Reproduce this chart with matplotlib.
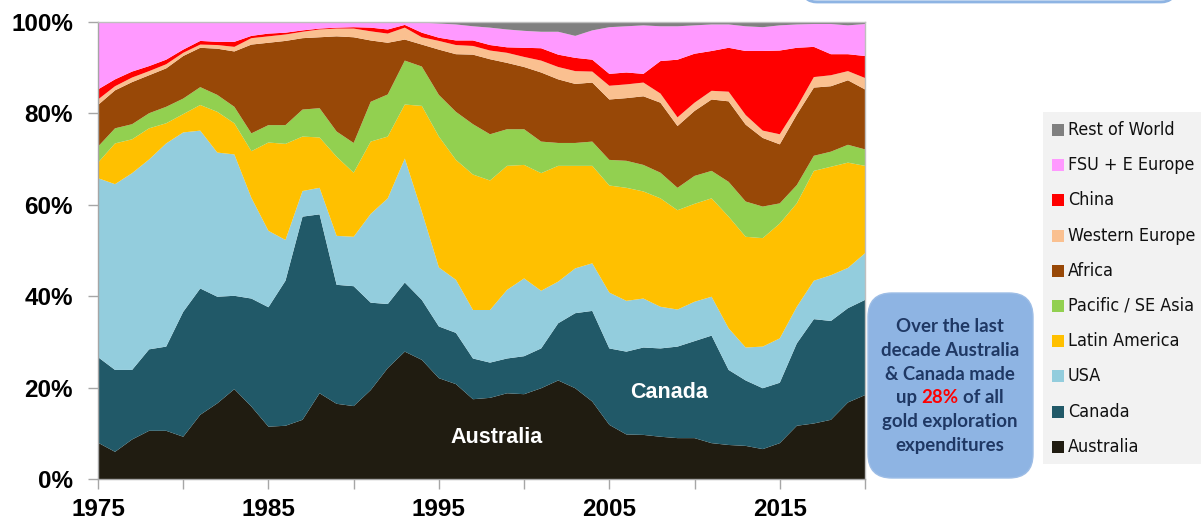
import matplotlib
matplotlib.use("Agg")
import matplotlib.pyplot as plt
from matplotlib.patches import FancyBboxPatch, Rectangle
from matplotlib.transforms import IdentityTransform
from matplotlib.ticker import FuncFormatter
from matplotlib import font_manager

W, H = 1201, 520

years = list(range(1975, 2021))

australia = [8.0, 6.0, 8.7, 10.6, 10.6, 9.3, 14.1, 16.6, 19.7, 15.9,
             11.5, 11.7, 13.0, 18.8, 16.5, 16.0, 19.5, 24.3, 27.9, 26.1,
             22.1, 20.8, 17.5, 17.8, 18.8, 18.6, 19.9, 21.6, 19.9, 17.0,
             11.9, 9.8, 9.7, 9.3, 9.0, 9.0, 7.9, 7.5, 7.3, 6.6,
             7.9, 11.7, 12.2, 13.0, 16.8, 18.4]
canada = [18.7, 17.9, 15.2, 17.8, 18.4, 27.3, 27.6, 23.3, 20.4, 23.6,
          26.1, 31.7, 44.4, 39.1, 26.0, 26.2, 19.1, 14.0, 15.1, 13.1,
          11.3, 11.2, 8.9, 7.7, 7.6, 8.3, 8.7, 12.5, 16.4, 19.8,
          16.7, 18.1, 19.1, 19.3, 20.0, 21.2, 23.5, 16.4, 14.3, 13.3,
          13.2, 18.0, 22.8, 21.6, 20.6, 20.8]
usa = [39.1, 40.6, 43.0, 41.5, 44.4, 39.2, 34.5, 31.5, 30.9, 22.0,
       16.7, 8.9, 5.6, 5.8, 10.7, 10.8, 19.4, 23.1, 27.1, 19.3,
       12.9, 11.6, 10.6, 11.5, 15.0, 17.0, 12.6, 9.1, 9.8, 10.4,
       12.2, 11.1, 10.7, 9.1, 8.1, 8.6, 8.5, 9.1, 7.2, 9.1,
       9.7, 8.0, 8.4, 10.0, 8.8, 10.2]
latin_america = [3.4, 8.9, 7.4, 6.8, 4.4, 4.0, 5.6, 8.9, 6.8, 10.2,
                 19.3, 21.0, 11.9, 11.0, 17.3, 14.0, 15.8, 13.5, 11.8, 23.1,
                 28.6, 26.2, 29.6, 28.3, 27.1, 24.8, 25.7, 25.3, 22.4, 21.3,
                 23.4, 24.7, 23.4, 23.7, 21.7, 21.4, 21.5, 24.4, 24.2, 23.7,
                 25.1, 22.6, 24.0, 23.7, 23.0, 19.1]
pacific = [3.5, 3.3, 3.3, 3.3, 3.6, 3.4, 3.9, 3.7, 3.6, 3.9,
           3.8, 4.1, 5.9, 6.4, 5.5, 6.5, 8.7, 9.2, 9.6, 8.6,
           9.1, 10.5, 11.0, 10.1, 8.0, 7.8, 6.9, 5.0, 5.0, 5.3,
           5.6, 5.9, 5.8, 5.6, 4.9, 6.1, 6.0, 7.6, 7.7, 6.9,
           4.4, 4.0, 3.3, 3.3, 3.9, 3.6]
africa = [9.1, 8.3, 9.2, 8.3, 8.4, 9.3, 8.6, 10.1, 12.1, 19.4,
          18.0, 18.4, 15.6, 15.5, 20.8, 23.1, 13.4, 11.3, 4.6, 4.8,
          9.9, 12.6, 15.2, 16.4, 14.5, 13.6, 15.1, 13.9, 12.9, 12.9,
          13.2, 13.7, 15.0, 15.3, 13.5, 14.2, 15.6, 17.6, 16.8, 15.0,
          12.9, 15.4, 14.9, 14.3, 14.1, 13.1]
western_europe = [1.2, 0.9, 1.0, 0.9, 0.9, 0.7, 0.7, 0.8, 1.0, 1.4,
                  1.4, 1.4, 1.4, 1.7, 1.7, 1.9, 2.0, 2.0, 2.6, 1.6,
                  1.9, 2.0, 1.9, 1.9, 2.2, 2.2, 2.6, 2.7, 2.8, 2.4,
                  3.0, 3.0, 3.0, 2.0, 1.9, 1.8, 1.9, 2.1, 2.1, 1.6,
                  2.2, 1.6, 2.3, 2.4, 2.0, 2.5]
china = [2.2, 1.5, 1.3, 1.1, 1.0, 0.7, 0.8, 0.7, 1.1, 0.5,
         0.6, 0.4, 0.3, 0.2, 0.2, 0.3, 0.8, 0.9, 0.6, 1.0,
         0.7, 1.0, 1.2, 1.2, 1.2, 2.0, 2.7, 2.7, 2.9, 2.6,
         2.6, 2.6, 1.9, 7.1, 12.6, 10.7, 8.7, 9.6, 14.0, 17.4,
         18.3, 13.0, 6.6, 4.6, 3.7, 4.8]
fsu_e_europe = [14.8, 12.6, 10.9, 9.7, 8.3, 6.1, 4.2, 4.4, 4.4, 3.1,
                2.6, 2.4, 1.9, 1.5, 1.3, 1.0, 1.1, 1.5, 0.5, 2.2,
                3.1, 3.5, 3.1, 3.8, 3.9, 3.7, 3.6, 5.0, 4.8, 6.4,
                10.2, 10.1, 10.6, 7.6, 7.3, 6.2, 5.8, 5.1, 5.4, 5.2,
                5.5, 5.1, 5.0, 6.6, 6.3, 7.0]
rest_of_world = [0.0, 0.0, 0.0, 0.0, 0.0, 0.0, 0.0, 0.0, 0.0, 0.0,
                 0.0, 0.0, 0.0, 0.0, 0.0, 0.2, 0.2, 0.2, 0.2, 0.2,
                 0.4, 0.6, 1.0, 1.3, 1.7, 2.0, 2.2, 2.2, 3.1, 1.9,
                 1.2, 1.0, 0.8, 1.0, 1.0, 0.8, 0.6, 0.6, 1.0, 1.2,
                 0.8, 0.6, 0.5, 0.5, 0.5, 0.5]

series_names = ["Australia", "Canada", "USA", "Latin America", "Pacific / SE Asia",
                "Africa", "Western Europe", "China", "FSU + E Europe", "Rest of World"]
series = [australia, canada, usa, latin_america, pacific, africa,
          western_europe, china, fsu_e_europe, rest_of_world]
colors = ["#201c11", "#215968", "#93cddd", "#ffc000", "#92d050",
          "#984807", "#fac090", "#ff0000", "#ff99ff", "#808080"]

x_ticks = [1975, 1980, 1985, 1990, 1995, 2000, 2005, 2010, 2015, 2020]
x_labels = ["1975", "", "1985", "", "1995", "", "2005", "", "2015", ""]
y_ticks = [0, 20, 40, 60, 80, 100]

fig = plt.figure(figsize=(W / 100, H / 100), dpi=100)
ax = fig.add_axes([98 / W, 1 - 479.3 / H, (865 - 98) / W, (479.3 - 21.7) / H])

ax.stackplot(years, *series, colors=colors, labels=series_names, linewidth=0)
ax.set_xlim(1975, 2020)
ax.set_ylim(0, 100)

ax.set_xticks(x_ticks)
ax.set_xticklabels(x_labels)
ax.set_yticks(y_ticks)
ax.yaxis.set_major_formatter(FuncFormatter(lambda v, p: f"{v:.0f}%"))

for s in ax.spines.values():
    s.set_color("#bfbfbf")
    s.set_linewidth(1)
ax.spines["left"].set_color("#a6a6a6")
ax.spines["bottom"].set_color("#a6a6a6")

ax.tick_params(axis="both", direction="out", length=7, width=1, color="#a6a6a6")
ax.tick_params(axis="y", pad=11)
ax.tick_params(axis="x", pad=6.5)
for lab in ax.get_xticklabels():
    lab.set_fontsize(17.5)
    lab.set_fontweight("bold")
    lab.set_family("Liberation Sans")
for lab in ax.get_yticklabels():
    lab.set_fontsize(17.5)
    lab.set_fontweight("bold")
    lab.set_family("Liberation Sans")

ax.text(1998.4, 9.2, "Australia", color="white", fontsize=15.5, fontweight="bold",
        family="Liberation Sans", ha="center", va="center")
ax.text(2008.5, 18.9, "Canada", color="white", fontsize=15.5, fontweight="bold",
        family="Liberation Sans", ha="center", va="center")

ident = IdentityTransform()

# pick a narrow font for the legend if one is installed
names = {f.name for f in font_manager.fontManager.ttflist}
cond = {(f.name, f.stretch) for f in font_manager.fontManager.ttflist}
leg_kw = dict(family="Liberation Sans")
if "Liberation Sans Narrow" in names:
    leg_kw = dict(family="Liberation Sans Narrow")
elif any(n == "DejaVu Sans" and st in ("condensed", 300, "semi-condensed") for n, st in cond):
    leg_kw = dict(family="DejaVu Sans", stretch="condensed")

fig.canvas.draw()
r = fig.canvas.get_renderer()


def measure(s, **k):
    t = fig.text(0, 0, s, transform=ident, **k)
    bb = t.get_window_extent(r)
    t.remove()
    return bb.width


leg_size = 15.5 * 107.0 / measure("Rest of World", fontsize=15.5, **leg_kw)
leg_size = min(leg_size, 16.0)

# Legend (manual, top to bottom)
fig.patches.append(Rectangle((1043, H - 464), 200, 464 - 112, transform=ident,
                             facecolor="#f2f2f2", edgecolor="none", zorder=0))
for i, (name, col) in enumerate(zip(series_names[::-1], colors[::-1])):
    yc = 130 + i * 35.2
    fig.patches.append(Rectangle((1052, H - yc - 6), 12, 12, transform=ident,
                                 facecolor=col, edgecolor="none", zorder=1))
    fig.text(1068, H - yc, name, transform=ident, fontsize=leg_size, va="center",
             ha="left", color="#111111", **leg_kw)

# Annotation box
fig.patches.append(FancyBboxPatch((868, H - 478), 1033 - 868, 478 - 293,
                                  boxstyle="round,pad=0,rounding_size=24",
                                  transform=ident, facecolor="#8eb4e3",
                                  edgecolor="#9dbde6", linewidth=1, zorder=1))
# Top (cut-off) box
fig.patches.append(FancyBboxPatch((803, H - 2), 1175 - 803, 60,
                                  boxstyle="round,pad=0,rounding_size=14",
                                  transform=ident, facecolor="#dbe6f4",
                                  edgecolor="#8eb4e3", linewidth=2, zorder=1))

navy = "#1f3864"
kw = dict(fontsize=13.4, fontweight="bold", family="Lato", transform=ident, va="center")
cx = 950
lines = ["Over the last", "decade Australia", "& Canada made", None,
         "gold exploration", "expenditures"]
y0 = 327
dy = 23.6
for i, t in enumerate(lines):
    if t is not None:
        fig.text(cx, H - (y0 + i * dy), t, color=navy, ha="center", **kw)


def tw(s):
    t = fig.text(0, 0, s, **kw)
    w = t.get_window_extent(r).width
    t.remove()
    return w


sp = tw("a a") - tw("aa")
parts = [("up", navy), ("28%", "#ff0000"), ("of all", navy)]
widths = [tw(p) for p, _ in parts]
total = sum(widths) + 2 * sp
xx = cx - total / 2
yy = H - (y0 + 3 * dy)
for (p, c), w in zip(parts, widths):
    fig.text(xx, yy, p, color=c, ha="left", **kw)
    xx += w + sp

fig.savefig("out.png", dpi=100)
